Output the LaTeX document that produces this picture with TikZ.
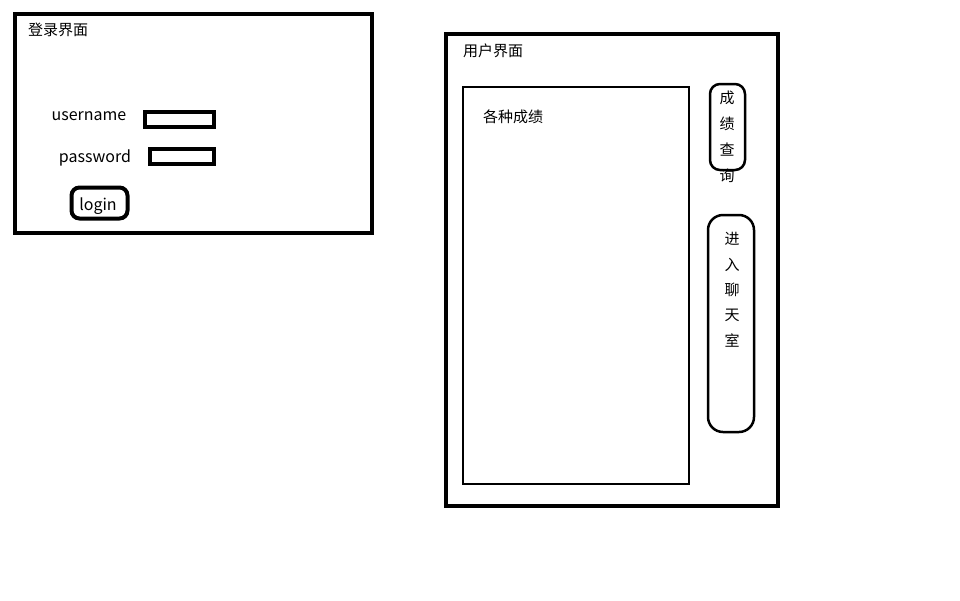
\documentclass[tikz,border=0pt]{standalone}
\usepackage{fontspec}
\setmainfont{Noto Sans CJK SC}
\usetikzlibrary{positioning}

\begin{document}
\begin{tikzpicture}[x=1pt,y=-1pt,
    every node/.style={font=\fontsize{15}{17}\selectfont, inner sep=0pt},
    latin/.style={font=\fontsize{16}{18}\selectfont},
    field/.style={draw, line width=4, minimum height=15}]
    \useasboundingbox (0,0) rectangle (960,600);
    % Login
    \draw[line width=4] (15,14) rectangle (372,233);
    \node[anchor=west] (loginTitle) at (28,30) {登录界面};
    \node[latin] (userLabel) at (89,116) {username};
    \node[field, minimum width=69] (userField) at (179.5,119) {};
    \node[latin] (passLabel) at (95,158) {password};
    \node[field, minimum width=64] (passField) at (182,156.5) {};
    \node[draw, line width=4, rounded corners=8, minimum width=56, minimum height=31] (loginBtn) at (99.5,203) {};
    \node[latin] (loginText) at (98,206) {login};
    % User
    \draw[line width=4] (446,34) rectangle (778,506);
    \node[anchor=west] (userTitle) at (463,51) {用户界面};
    \draw[line width=2] (463,87) rectangle (689,484);
    \node[anchor=west] (scores) at (483,117) {各种成绩};
    % Query
    \draw[line width=2.5, rounded corners=10] (710,84) rectangle (745,170);
    \foreach \c [count=\i] in {成,绩,查,询}
    {
        \node (query\i) at (727,98+26*\i-26) {\c};
    }
    % Chat
    \draw[line width=2.5, rounded corners=15] (708,215) rectangle (754,432);
    \foreach \c [count=\i] in {进,入,聊,天,室}
    {
        \node (chat\i) at (732,239+25.5*\i-25.5) {\c};
    }
\end{tikzpicture}
\end{document}
